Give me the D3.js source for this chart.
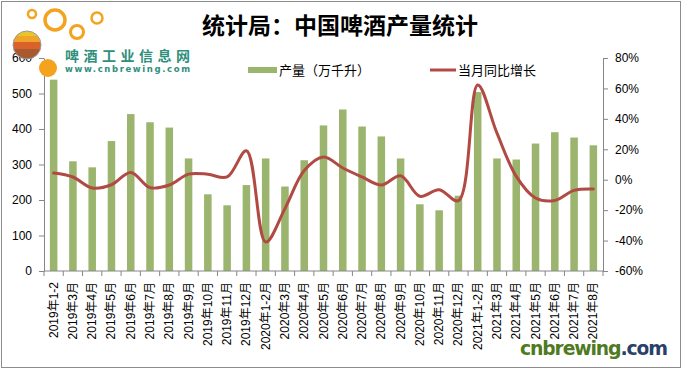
<!DOCTYPE html>
<html>
<head>
<meta charset="utf-8">
<script src="https://cdn.jsdelivr.net/npm/d3@7"></script>
<style>
  html, body { margin: 0; padding: 0; background: #fff; }
  svg { display: block; }
  .axis text { font-family: "Liberation Sans", Arial, "Noto Sans CJK SC", sans-serif; font-size: 12px; fill: #000; }
  .axis path, .axis line { stroke: #868686; }
</style>
</head>
<body>
<svg width="683" height="371"></svg>
<script>
// months shown on the x axis
const categories = [
  '2019年1-2', '2019年3月', '2019年4月', '2019年5月', '2019年6月', '2019年7月', '2019年8月',
  '2019年9月', '2019年10月', '2019年11月', '2019年12月',
  '2020年1-2月', '2020年3月', '2020年4月', '2020年5月', '2020年6月', '2020年7月', '2020年8月',
  '2020年9月', '2020年10月', '2020年11月', '2020年12月',
  '2021年1-2月', '2021年3月', '2021年4月', '2021年5月', '2021年6月', '2021年7月', '2021年8月'
];
// 产量（万千升）
const output = [
  539, 309, 292, 366, 442, 419, 404, 317, 216, 185, 242,
  317, 238, 312, 410, 455, 407, 379, 317, 188, 171, 212,
  504, 317, 314, 359, 391, 376, 354
];
// 当月同比增长 (%)
const growth = [
  4.4, 1.8, -5.4, -3.3, 4.8, -5.2, -3.5, 3.7, 3.6, 1.8, 19,
  -41, -19, 6, 14.9, 7.7, 1.8, -3.5, 2.6, -10.9, -6.6, -13.8,
  62.3, 30.6, 2.2, -12, -13.6, -7, -6.1
];
const leftTicks = [0, 100, 200, 300, 400, 500, 600];
const rightTicks = [-60, -40, -20, 0, 20, 40, 60, 80];

const svg = d3.select('svg');
const plotLeft = 44, plotRight = 603, plotTop = 58, plotBottom = 271;

// outer frame
svg.append('rect')
  .attr('x', 1.5).attr('y', 1.5).attr('width', 679).attr('height', 366)
  .attr('fill', 'none').attr('stroke', '#8c8c8c');

const x = d3.scaleBand().domain(categories).range([plotLeft, plotRight]).padding(0);
const yL = d3.scaleLinear().domain([0, 600]).range([plotBottom, plotTop]);
const yR = d3.scaleLinear().domain([-60, 80]).range([plotBottom, plotTop]);
const bw = x.bandwidth() * 0.39;

// bars
svg.append('g').attr('class', 'bars')
  .selectAll('rect')
  .data(output)
  .join('rect')
  .attr('x', (d, i) => x(categories[i]) + (x.bandwidth() - bw) / 2)
  .attr('width', bw)
  .attr('y', d => yL(d))
  .attr('height', d => yL(0) - yL(d))
  .attr('fill', '#9bb46e');

// axes
svg.append('g').attr('class', 'axis')
  .attr('transform', `translate(${plotLeft},0)`)
  .call(d3.axisLeft(yL).tickValues(leftTicks).tickSize(5).tickPadding(7).tickSizeOuter(0));

svg.append('g').attr('class', 'axis')
  .attr('transform', `translate(${plotRight},0)`)
  .call(d3.axisRight(yR).tickValues(rightTicks).tickSize(5).tickPadding(7).tickSizeOuter(0)
    .tickFormat(d => `${d}%`));

const xa = svg.append('g').attr('class', 'axis');
xa.append('line')
  .attr('x1', plotLeft).attr('x2', plotRight).attr('y1', plotBottom).attr('y2', plotBottom);
xa.selectAll('line.tick')
  .data(categories.concat([null]))
  .join('line')
  .attr('class', 'tick')
  .attr('x1', (d, i) => plotLeft + i * x.step()).attr('x2', (d, i) => plotLeft + i * x.step())
  .attr('y1', plotBottom).attr('y2', plotBottom + 5);
xa.selectAll('text')
  .data(categories)
  .join('text')
  .attr('transform', d => `translate(${x(d) + x.bandwidth() / 2 + 4},${plotBottom + 11}) rotate(-90)`)
  .attr('text-anchor', 'end')
  .text(d => d);

// growth line
const line = d3.line()
  .x((d, i) => x(categories[i]) + x.bandwidth() / 2)
  .y(d => yR(d))
  .curve(d3.curveCatmullRom);

svg.append('path')
  .datum(growth)
  .attr('d', line)
  .attr('fill', 'none')
  .attr('stroke', '#b24a44')
  .attr('stroke-width', 3)
  .attr('stroke-linecap', 'round');

// title
svg.append('text')
  .attr('x', 340).attr('y', 34)
  .attr('text-anchor', 'middle')
  .attr('font-family', '"Noto Sans CJK SC", sans-serif')
  .attr('font-weight', 'bold')
  .attr('font-size', 23)
  .text('统计局：中国啤酒产量统计');

// legend
const lg = svg.append('g')
  .attr('font-family', '"Noto Sans CJK SC", sans-serif')
  .attr('font-size', 13);
lg.append('rect').attr('x', 248).attr('y', 67).attr('width', 29).attr('height', 6).attr('fill', '#9bb46e');
lg.append('text').attr('x', 279).attr('y', 75).text('产量（万千升）');
lg.append('line').attr('x1', 430).attr('x2', 456).attr('y1', 70).attr('y2', 70)
  .attr('stroke', '#b24a44').attr('stroke-width', 3);
lg.append('text').attr('x', 458).attr('y', 75).text('当月同比增长');

// logo (top left)
const logo = svg.append('g');
const rings = [[32, 14, 4, 2.5], [55, 20, 10, 3.5], [77, 32, 6.5, 3], [97, 18, 5.5, 2.5]];
logo.selectAll('circle.ring')
  .data(rings)
  .join('circle')
  .attr('class', 'ring')
  .attr('cx', d => d[0]).attr('cy', d => d[1]).attr('r', d => d[2])
  .attr('fill', 'none').attr('stroke', '#f4a31e').attr('stroke-width', d => d[3]);
const clip = svg.append('clipPath').attr('id', 'ball');
clip.append('circle').attr('cx', 27).attr('cy', 45).attr('r', 14);
const stripes = [['#7aa83a', 28], ['#e8c62a', 36], ['#f0a52a', 42], ['#d9622b', 49], ['#a85a2e', 62]];
logo.append('g').attr('clip-path', 'url(#ball)')
  .selectAll('rect')
  .data(stripes)
  .join('rect')
  .attr('x', 10).attr('width', 36)
  .attr('y', (d, i) => (i === 0 ? 28 : stripes[i - 1][1]))
  .attr('height', (d, i) => d[1] - (i === 0 ? 28 : stripes[i - 1][1]))
  .attr('fill', d => d[0]);
logo.append('circle').attr('cx', 27).attr('cy', 45).attr('r', 14)
  .attr('fill', 'none').attr('stroke', '#9a9a9a').attr('stroke-width', 1);
logo.append('circle').attr('cx', 48).attr('cy', 68).attr('r', 9).attr('fill', '#f4a31e');
logo.append('text')
  .attr('x', 65).attr('y', 61)
  .attr('font-family', '"Noto Sans CJK SC", sans-serif')
  .attr('font-weight', 'bold')
  .attr('font-size', 14)
  .attr('textLength', 125)
  .attr('fill', '#2f8f7c')
  .text('啤酒工业信息网');
logo.append('text')
  .attr('x', 65).attr('y', 72)
  .attr('font-family', '"DejaVu Sans", sans-serif')
  .attr('font-weight', 'bold')
  .attr('font-size', 8.5)
  .attr('textLength', 125)
  .attr('fill', '#2f8f7c')
  .text('www.cnbrewing.com');

// watermark (bottom right)
const wm = svg.append('text')
  .attr('x', 520).attr('y', 355)
  .attr('font-family', '"DejaVu Sans", sans-serif')
  .attr('font-weight', 'bold')
  .attr('font-size', 19)
  .attr('textLength', 148)
  .attr('stroke', '#fff').attr('stroke-width', 2.5).attr('paint-order', 'stroke');
wm.append('tspan').attr('fill', '#4f7a1f').text('cnbrewing');
wm.append('tspan').attr('fill', '#2b3f6b').text('.com');
</script>
</body>
</html>
